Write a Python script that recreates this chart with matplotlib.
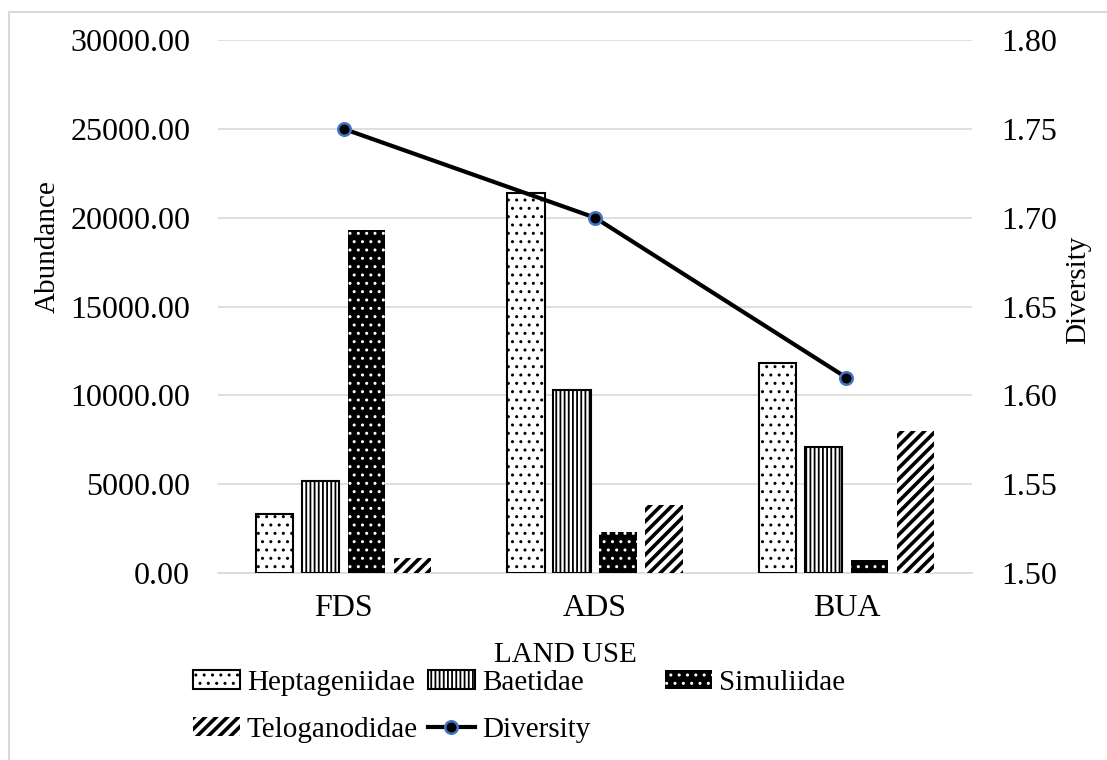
import numpy as np
import matplotlib
matplotlib.use("Agg")
import matplotlib.pyplot as plt
from matplotlib.patches import Rectangle

plt.rcParams['font.family'] = ['Liberation Serif', 'DejaVu Serif']

# data
land_use = ["FDS", "ADS", "BUA"]
heptageniidae = [3300, 21400, 11800]
baetidae = [5200, 10300, 7100]
simuliidae = [19300, 2300, 750]
teloganodidae = [850, 3800, 8000]
diversity = [1.75, 1.70, 1.61]

abund_ticks = [0, 5000, 10000, 15000, 20000, 25000, 30000]
div_ticks = [1.50, 1.55, 1.60, 1.65, 1.70, 1.75, 1.80]

fig = plt.figure(figsize=(11.07, 7.6), dpi=100)
ax = fig.add_axes([218/1107, 1-573/760, 754/1107, 533/760])

x = np.arange(len(land_use))
pitch = 0.183
w = 0.148

b1 = ax.bar(x - 1.5*pitch, heptageniidae, w, facecolor='white', edgecolor='black',
            linewidth=1.5, hatch='..', label='Heptageniidae', zorder=3)
b2 = ax.bar(x - 0.5*pitch, baetidae, w, facecolor='white', edgecolor='black',
            linewidth=1.5, hatch='||||', label='Baetidae', zorder=3)
b3 = ax.bar(x + 0.5*pitch, simuliidae, w, facecolor='black', edgecolor='white',
            linewidth=0, hatch='..', label='Simuliidae', zorder=3)
b4 = ax.bar(x + 1.5*pitch, teloganodidae, w, facecolor='white', edgecolor='black',
            linewidth=0, hatch='///', label='Teloganodidae', zorder=3)
for p in b2:
    p.set_hatch_linewidth(1.3)
for p in b4:
    p.set_hatch_linewidth(2.6)

ax.set_xlim(-0.5, 2.5)
ax.set_ylim(0, 30000)
ax.set_yticks(abund_ticks)
ax.set_yticklabels([f"{v:.2f}" for v in abund_ticks])
ax.set_xticks(x)
ax.set_xticklabels(land_use)
ax.tick_params(axis='both', length=0, labelsize=23)
ax.tick_params(axis='y', pad=20)
ax.tick_params(axis='x', pad=15)
ax.grid(axis='y', color='#d9d9d9', linewidth=1.2, zorder=0)
ax.set_axisbelow(True)
for s in ['top', 'left', 'right']:
    ax.spines[s].set_visible(False)
ax.spines['bottom'].set_color('#d9d9d9')
ax.spines['bottom'].set_linewidth(1.2)

ax2 = ax.twinx()
line, = ax2.plot(x, diversity, color='black', linewidth=3, marker='o', markersize=9,
                 markerfacecolor='black', markeredgecolor='#4472C4', markeredgewidth=1.8,
                 label='Diversity', zorder=5)
ax2.set_ylim(1.5, 1.8)
ax2.set_yticks(div_ticks)
ax2.set_yticklabels([f"{v:.2f}" for v in div_ticks])
ax2.tick_params(axis='y', length=0, labelsize=23, pad=21)
for s in ['top', 'left', 'right', 'bottom']:
    ax2.spines[s].set_visible(False)

fig.text(48/1107, 1-247/760, 'Abundance', rotation=90, fontsize=21, ha='center', va='center')
fig.text(1078/1107, 1-290/760, 'Diversity', rotation=90, fontsize=21, ha='center', va='center')
fig.text(565/1107, 1-655/760, 'LAND USE', fontsize=21, ha='center', va='center')

# legend laid out in columns like the original
leg_kw = dict(loc='upper left', frameon=False, fontsize=21, borderpad=0, borderaxespad=0,
              handlelength=1.6, handleheight=0.6, handletextpad=0.25, labelspacing=0.72)
top = 1 - 670/760
leg1 = fig.legend([b1[0], b4[0]], ['Heptageniidae', 'Teloganodidae'],
                  bbox_to_anchor=(193/1107, top), **leg_kw)
leg2 = fig.legend([b2[0], line], ['Baetidae', 'Diversity'],
                  bbox_to_anchor=(428/1107, top), **leg_kw)
fig.legend([b3[0]], ['Simuliidae'],
           bbox_to_anchor=(665/1107, top), **leg_kw)
leg1.legend_handles[1].set_hatch_linewidth(2.6)
leg2.legend_handles[0].set_hatch_linewidth(1.3)

fig.patches.append(Rectangle((9/1107, -0.01), 1.02, 1 - 12/760 + 0.01, transform=fig.transFigure,
                             fill=False, edgecolor='#d9d9d9', linewidth=1.5))

fig.savefig('out.png', dpi=100)
